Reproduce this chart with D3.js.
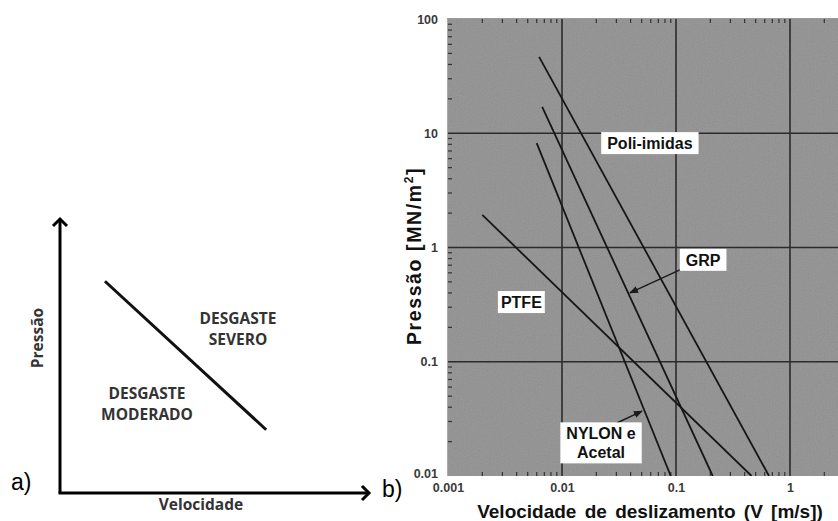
<!DOCTYPE html>
<html><head><meta charset="utf-8">
<script src="https://cdn.jsdelivr.net/npm/d3@7"></script>
<style>html,body{margin:0;padding:0;background:#fff;}svg{display:block;}</style>
</head><body>
<svg id="chart" width="838" height="521"></svg>
<script>
// ---------- data ----------
const xTicks = [0.001, 0.01, 0.1, 1];
const xTickLabels = ["0.001", "0.01", "0.1", "1"];
const yTicks = [0.01, 0.1, 1, 10, 100];
const yTickLabels = ["0.01", "0.1", "1", "10", "100"];
const materials = ["Poli-imidas", "GRP", "NYLON e Acetal", "PTFE"];
const vStart = [0.0063, 0.0067, 0.006, 0.002];
const pStart = [46.6, 17, 8.2, 1.93];
const vEnd = [0.655, 0.21, 0.09, 0.46];
const pEnd = [0.01, 0.01, 0.01, 0.01];
// label anchors (data coords)
const labelV = [0.059, 0.173, 0.022, 0.0044];
const labelP = [8.2, 0.78, 0.0195, 0.333];
// schematic (panel a)
const conceptX = [1.45, 6.65];
const conceptY = [7.7, 2.3];

const svg = d3.select("#chart");
const defs = svg.append("defs");
const f = defs.append("filter").attr("id","noise").attr("x",0).attr("y",0).attr("width","100%").attr("height","100%");
f.append("feTurbulence").attr("type","fractalNoise").attr("baseFrequency",0.85).attr("numOctaves",2).attr("seed",3);
f.append("feColorMatrix").attr("type","matrix")
 .attr("values","0.33 0.33 0.33 0 0  0.33 0.33 0.33 0 0  0.33 0.33 0.33 0 0  0 0 0 0 0.16");
defs.append("clipPath").attr("id","clip").append("rect").attr("x",448).attr("y",19).attr("width",390).attr("height",457);
defs.append("marker").attr("id","arr").attr("viewBox","0 0 10 10").attr("refX",9).attr("refY",5)
 .attr("markerWidth",9).attr("markerHeight",9).attr("markerUnits","userSpaceOnUse").attr("orient","auto")
 .append("path").attr("d","M0,1 L10,5 L0,9 Z").attr("fill","#1a1a1a");

// ---------- panel a ----------
const ax = d3.scaleLinear().domain([0,10]).range([60,370]);
const ay = d3.scaleLinear().domain([0,10]).range([493,218]);
const ga = svg.append("g");
ga.append("path").attr("d", `M${ax(0)},${ay(0)} L${ax(0)},${ay(10)+1}`).attr("stroke","#000").attr("stroke-width",3).attr("fill","none");
ga.append("path").attr("d", `M${ax(0)-1.5},${ay(0)} L${ax(10)-1},${ay(0)}`).attr("stroke","#000").attr("stroke-width",3).attr("fill","none");
ga.append("path").attr("d", `M${ax(0)-7},${ay(10)+8} L${ax(0)},${ay(10)+1} L${ax(0)+7},${ay(10)+8}`).attr("stroke","#000").attr("stroke-width",3).attr("fill","none").attr("stroke-linejoin","miter");
ga.append("path").attr("d", `M${ax(10)-8},${ay(0)-7} L${ax(10)-1},${ay(0)} L${ax(10)-8},${ay(0)+7}`).attr("stroke","#000").attr("stroke-width",3).attr("fill","none");
ga.append("line").attr("x1",ax(conceptX[0])).attr("y1",ay(conceptY[0])).attr("x2",ax(conceptX[1])).attr("y2",ay(conceptY[1]))
 .attr("stroke","#111").attr("stroke-width",3);
const tA = {"font-family":"'Open Sans', sans-serif","font-weight":"bold","font-size":"15.5px","fill":"#333","text-anchor":"middle"};
function tx(g,x,y,s,st){const t=g.append("text").attr("x",x).attr("y",y).text(s);Object.entries(st).forEach(([k,v])=>t.attr(k,v));return t;}
tx(ga,238,324,"DESGASTE",tA); tx(ga,238,345,"SEVERO",tA);
tx(ga,147,399,"DESGASTE",tA); tx(ga,147,420,"MODERADO",tA);
tx(ga,201,510,"Velocidade",tA);
tx(ga,0,0,"Pressão",tA).attr("transform","translate(43,338) rotate(-90)");
tx(ga,11,490,"a)",{"font-family":"'Liberation Sans', Arial, sans-serif","font-size":"23px","fill":"#000"});
tx(ga,382,497,"b)",{"font-family":"'Liberation Sans', Arial, sans-serif","font-size":"23px","fill":"#000"});

// ---------- panel b ----------
const x = d3.scaleLog().domain([0.001, 1]).range([448, 790]);
const y = d3.scaleLog().domain([0.01, 100]).range([476, 19]);
const gb = svg.append("g");
gb.append("rect").attr("x",448).attr("y",19).attr("width",390).attr("height",457).attr("fill","#8d8d8d");
gb.append("rect").attr("x",448).attr("y",19).attr("width",390).attr("height",457).attr("fill","#fff").attr("filter","url(#noise)");
gb.append("line").attr("x1",447).attr("x2",838).attr("y1",18.5).attr("y2",18.5).attr("stroke","#9a9a9a");
gb.append("line").attr("x1",447.5).attr("x2",447.5).attr("y1",19).attr("y2",476).attr("stroke","#aaa");

const plot = gb.append("g").attr("clip-path","url(#clip)");
// minor ticks
const minorX = [], minorY = [];
for (let e=-3;e<1;e++) for (let m=2;m<10;m++) minorX.push(m*Math.pow(10,e));
for (let e=-2;e<2;e++) for (let m=2;m<10;m++) minorY.push(m*Math.pow(10,e));
plot.selectAll(".mxt").data(minorX).join("line").attr("x1",d=>x(d)).attr("x2",d=>x(d)).attr("y1",19).attr("y2",23).attr("stroke","#333").attr("stroke-width",1.2);
plot.selectAll(".mxb").data(minorX).join("line").attr("x1",d=>x(d)).attr("x2",d=>x(d)).attr("y1",472).attr("y2",476).attr("stroke","#333").attr("stroke-width",1.2);
plot.selectAll(".myl").data(minorY).join("line").attr("x1",448).attr("x2",452).attr("y1",d=>y(d)).attr("y2",d=>y(d)).attr("stroke","#333").attr("stroke-width",1.2);
// grid
plot.selectAll(".gx").data(xTicks.slice(1)).join("line").attr("x1",d=>x(d)).attr("x2",d=>x(d)).attr("y1",19).attr("y2",476).attr("stroke","#2b2b2b").attr("stroke-width",1.6);
plot.selectAll(".gy").data(yTicks.slice(1,4)).join("line").attr("x1",448).attr("x2",838).attr("y1",d=>y(d)).attr("y2",d=>y(d)).attr("stroke","#2b2b2b").attr("stroke-width",1.6);
// material lines
plot.selectAll(".ml").data(materials).join("line")
 .attr("x1",(d,i)=>x(vStart[i])).attr("y1",(d,i)=>y(pStart[i]))
 .attr("x2",(d,i)=>x(vEnd[i])).attr("y2",(d,i)=>y(pEnd[i]))
 .attr("stroke","#161616").attr("stroke-width",1.8);

// axes labels via d3 axes
const xAxis = d3.axisBottom(x).tickValues(xTicks).tickFormat((d,i)=>xTickLabels[i]).tickSize(0).tickPadding(7);
const yAxis = d3.axisLeft(y).tickValues(yTicks).tickFormat((d,i)=>yTickLabels[i]).tickSize(0).tickPadding(10);
const gx = gb.append("g").attr("transform","translate(0,476)").call(xAxis);
const gy = gb.append("g").attr("transform","translate(448,0)").call(yAxis);
[gx,gy].forEach(g=>{g.select(".domain").remove();g.selectAll("text").attr("font-family","'Liberation Sans', Arial, sans-serif").attr("font-weight","bold").attr("font-size","12.5px").attr("fill","#3a3a3a");});
gy.selectAll(".tick").filter(d=>d===0.01).select("text").attr("dy","0.1em");

// titles
const tB = {"font-family":"'Liberation Sans', Arial, sans-serif","font-weight":"bold","font-size":"19px","fill":"#111","text-anchor":"middle"};
tx(gb,650,518,"Velocidade de deslizamento (V [m/s])",tB).attr("word-spacing","3px");
const yt = gb.append("text").attr("transform","translate(421,256) rotate(-90)").attr("text-anchor","middle")
 .attr("font-family","'Liberation Sans', Arial, sans-serif").attr("font-weight","bold").attr("font-size","19.5px").attr("fill","#111").attr("letter-spacing","1.6px");
yt.append("tspan").text("Pressão [MN/m");
yt.append("tspan").text("2").attr("font-size","12px").attr("dy","-8");
yt.append("tspan").text("]").attr("dy","8");

// annotation arrows
const arrows = [[0.113,0.65,0.0394,0.40],[0.0303,0.0291,0.0503,0.037]];
gb.selectAll(".ar").data(arrows).join("line")
 .attr("x1",d=>x(d[0])).attr("y1",d=>y(d[1])).attr("x2",d=>x(d[2])).attr("y2",d=>y(d[3]))
 .attr("stroke","#1a1a1a").attr("stroke-width",1.4).attr("marker-end","url(#arr)");

// material labels
const lblFont = {"font-family":"'Liberation Sans', Arial, sans-serif","font-weight":"bold","font-size":"16px","fill":"#111","text-anchor":"middle"};
materials.forEach((m,i)=>{
  const cx = x(labelV[i]), cy = y(labelP[i]);
  const lines = m === "NYLON e Acetal" ? ["NYLON e","Acetal"] : [m];
  const g = gb.append("g");
  const rect = g.append("rect").attr("fill","#fff");
  const texts = lines.map((s,j)=>tx(g,cx,cy + (j - (lines.length-1)/2)*19 + 6,s,lblFont));
  let w = d3.max(texts,t=>t.node().getComputedTextLength());
  const pad = m === "PTFE" ? 3 : 6;
  const h = lines.length*19 + 3;
  rect.attr("x",cx-w/2-pad).attr("y",cy-h/2).attr("width",w+2*pad).attr("height",h);
});
</script>
</body></html>
